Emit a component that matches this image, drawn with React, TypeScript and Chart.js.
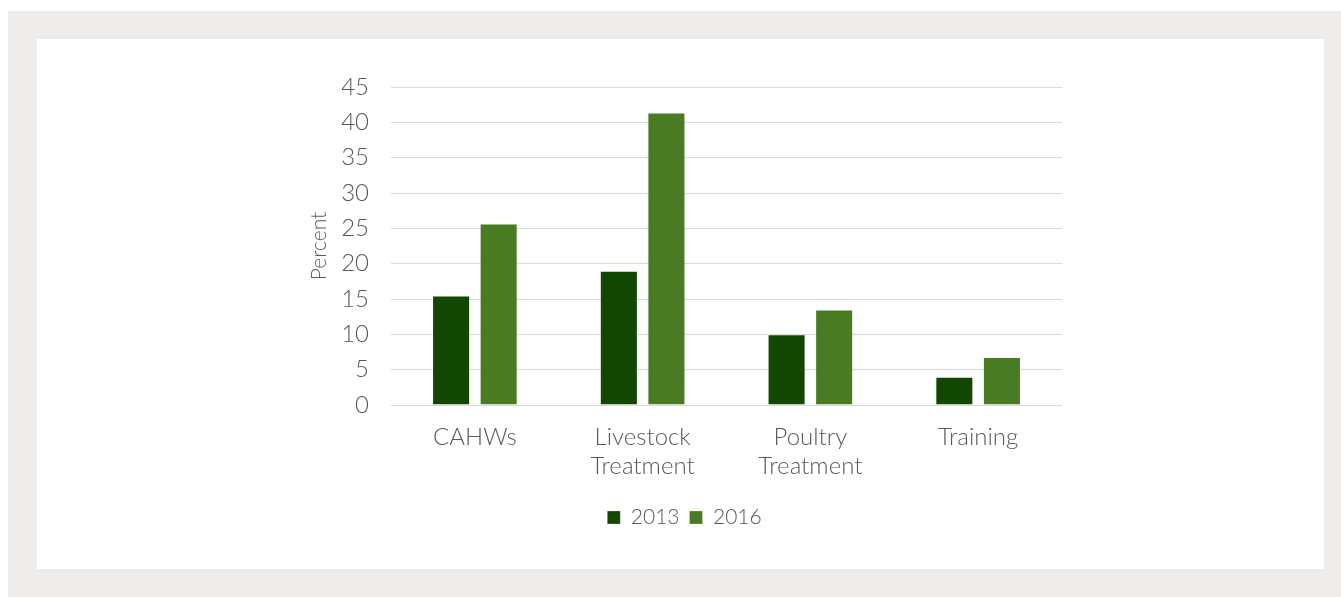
import React, { useEffect, useRef } from "react";
import { Chart, registerables } from "chart.js";

Chart.register(...registerables);

const categories: string[][] = [["CAHWs"], ["Livestock", "Treatment"], ["Poultry", "Treatment"], ["Training"]];
const seriesNames = ["2013", "2016"];
const values2013 = [15.5, 19.0, 10.0, 4.0];
const values2016 = [25.7, 41.4, 13.5, 6.8];
const yTicks = [0, 5, 10, 15, 20, 25, 30, 35, 40, 45];
const colors = ["#114701", "#487b22"];

const FONT = "Lato, 'Open Sans', sans-serif";
const TEXT = "#595959";

export default function App() {
  const ref = useRef<HTMLCanvasElement | null>(null);

  useEffect(() => {
    if (!ref.current) return;
    const chart = new Chart(ref.current, {
      type: "bar",
      data: {
        labels: categories,
        datasets: [
          {
            label: seriesNames[0],
            data: values2013,
            backgroundColor: colors[0],
            borderColor: "rgba(255,255,255,0.25)",
            borderWidth: 1,
            categoryPercentage: 0.567,
            barPercentage: 0.8,
          },
          {
            label: seriesNames[1],
            data: values2016,
            backgroundColor: colors[1],
            borderColor: "rgba(255,255,255,0.25)",
            borderWidth: 1,
            categoryPercentage: 0.567,
            barPercentage: 0.8,
          },
        ],
      },
      options: {
        animation: false,
        responsive: false,
        maintainAspectRatio: false,
        layout: { padding: { left: 270, right: 262, top: 48, bottom: 31 } },
        plugins: {
          tooltip: { enabled: false },
          legend: {
            position: "bottom",
            labels: {
              boxWidth: 13,
              boxHeight: 13,
              padding: 10,
              color: TEXT,
              font: { family: FONT, size: 21, weight: "300" },
            },
          },
        },
        scales: {
          x: {
            grid: { display: false, drawTicks: false },
            border: { display: false },
            ticks: {
              color: TEXT,
              padding: 18,
              maxRotation: 0,
              autoSkip: false,
              font: { family: FONT, size: 24, weight: "300", lineHeight: 1.2 },
            },
            afterFit: (s: any) => {
              s.height = 92;
            },
          },
          y: {
            min: 0,
            max: 45,
            afterBuildTicks: (s: any) => {
              s.ticks = yTicks.map((v) => ({ value: v }));
            },
            grid: { color: "#d9d9d9", lineWidth: 1, drawTicks: false },
            border: { display: false },
            ticks: {
              color: TEXT,
              padding: 22,
              font: { family: FONT, size: 24, weight: "300" },
            },
            title: {
              display: true,
              text: "Percent",
              color: TEXT,
              padding: { top: 0, bottom: 0 },
              font: { family: FONT, size: 21, weight: "300", lineHeight: 1.2 },
            },
            afterFit: (s: any) => {
              s.width = 84;
            },
          },
        },
      },
    });
    return () => chart.destroy();
  }, []);

  return (
    <div
      style={{
        position: "absolute",
        left: 8,
        top: 11,
        width: 1333,
        height: 586,
        background: "#eeedeb",
      }}
    >
      <div
        style={{
          position: "absolute",
          left: 29,
          top: 28,
          width: 1287,
          height: 530,
          background: "#ffffff",
        }}
      >
        <canvas ref={ref} width={1287} height={530} style={{ display: "block" }} />
      </div>
    </div>
  );
}
